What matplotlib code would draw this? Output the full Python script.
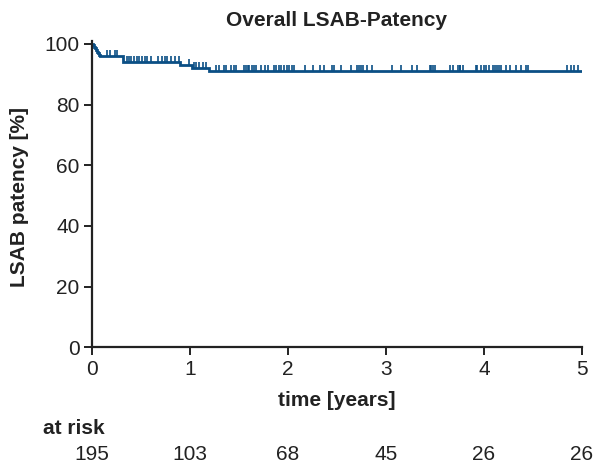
import matplotlib

matplotlib.use("Agg")
import matplotlib.pyplot as plt
import matplotlib.transforms as mtransforms
import numpy as np
from matplotlib.path import Path

# Kaplan-Meier step curve (years, % patent)
step_times = [0.0, 0.01, 0.02, 0.03, 0.04, 0.05, 0.06, 0.07, 0.08,
              0.32, 0.90, 1.02, 1.19]
step_surv = [100.0, 99.5, 99.0, 98.5, 97.9, 97.4, 96.9, 96.4, 95.9,
             94.0, 93.0, 92.0, 91.0]
end_time = 5.0

# censored observations (years)
censor_times = [
    0.15, 0.18, 0.23, 0.26,
    0.36, 0.38, 0.40, 0.43, 0.46, 0.48, 0.51, 0.54, 0.56, 0.60,
    0.67, 0.71, 0.74, 0.77, 0.81, 0.85, 0.89,
    0.99,
    1.04, 1.06, 1.09, 1.13, 1.16,
    1.27, 1.30, 1.35, 1.37, 1.42, 1.45, 1.47, 1.55, 1.57, 1.59, 1.60,
    1.63, 1.65, 1.67, 1.72, 1.77, 1.80, 1.86, 1.88, 1.91, 1.93, 1.96,
    1.99, 2.01, 2.04, 2.06, 2.17, 2.26, 2.33, 2.37, 2.45, 2.47, 2.54,
    2.64, 2.70, 2.72, 2.74, 2.77, 2.81, 2.86, 3.06, 3.15, 3.27, 3.32,
    3.45, 3.46, 3.48, 3.50, 3.65, 3.68, 3.73, 3.75, 3.76, 3.79,
    3.92, 3.93, 3.97, 4.00, 4.02, 4.05, 4.09, 4.11, 4.13, 4.15, 4.17,
    4.22, 4.27, 4.33, 4.38, 4.43, 4.45,
    4.85, 4.89, 4.92, 4.96,
]

risk_times = [0, 1, 2, 3, 4, 5]
risk_counts = [195, 103, 68, 45, 26, 26]

line_color = "#0b4f85"
ink = "#222222"

plt.rcParams["font.family"] = ["Liberation Sans", "DejaVu Sans"]
plt.rcParams["font.size"] = 15

fig = plt.figure(figsize=(5.95, 4.67), dpi=100)
W, H = 595, 467
ax = fig.add_axes([92 / W, 1 - 347.3 / H, 490 / W, (347.3 - 40.8) / H])

# step curve
xs = list(step_times) + [end_time]
ys = list(step_surv) + [step_surv[-1]]
ax.step(xs, ys, where="post", color=line_color, linewidth=2.0,
        solid_joinstyle="miter")

# censor marks: short upward ticks sitting on the curve
idx = np.searchsorted(step_times, censor_times, side="right") - 1
censor_y = np.array(step_surv)[idx]
up_tick = Path([(0, 0), (0, 1)])
ax.plot(censor_times, censor_y, linestyle="none", marker=up_tick,
        markersize=9, markeredgewidth=1.2, color=line_color)

ax.set_xlim(0, 5)
ax.set_ylim(0, 101)
ax.set_xticks(risk_times)
ax.set_yticks([0, 20, 40, 60, 80, 100])
for side in ("top", "right"):
    ax.spines[side].set_visible(False)
for side in ("left", "bottom"):
    ax.spines[side].set_linewidth(1.6)
    ax.spines[side].set_color(ink)
ax.tick_params(direction="out", length=6, width=1.4, color=ink,
               labelsize=15, labelcolor=ink, pad=3)

fig.text(337 / W, 1 - 20 / H, "Overall LSAB-Patency", ha="center",
         va="center", fontweight="bold", color=ink)
fig.text(20 / W, 1 - 197 / H, "LSAB patency [%]", ha="center", va="center",
         rotation=90, fontweight="bold", color=ink)
fig.text(337 / W, 1 - 400 / H, "time [years]", ha="center", va="center",
         fontweight="bold", color=ink)
fig.text(43 / W, 1 - 429 / H, "at risk", ha="left", va="center",
         fontweight="bold", color=ink)

trans = mtransforms.blended_transform_factory(ax.transData, fig.transFigure)
for t, n in zip(risk_times, risk_counts):
    ax.text(t, 1 - 455 / H, str(n), transform=trans, ha="center",
            va="center", color=ink, clip_on=False)

fig.savefig("out.png", dpi=100)
